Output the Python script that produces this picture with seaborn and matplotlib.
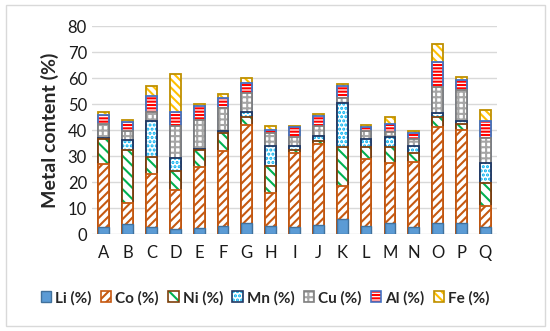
import numpy as np
import pandas as pd
import matplotlib
matplotlib.use("Agg")
import matplotlib.pyplot as plt
from matplotlib.patches import Patch, Rectangle
import seaborn as sns

# --- donnees ---
samples = list("ABCDEFGHIJKLMNOPQ")
li = [2.6, 3.8, 2.6, 2.1, 2.3, 3.1, 4.4, 3.1, 2.8, 3.6, 5.8, 3.1, 4.1, 2.8, 4.1, 4.1, 2.8]
co = [24.3, 8.3, 20.5, 14.8, 23.3, 28.8, 37.6, 12.5, 28.4, 31.0, 12.8, 25.6, 23.4, 25.0, 37.1, 36.1, 8.1]
ni = [9.5, 20.2, 6.6, 7.5, 6.9, 7.1, 3.1, 10.6, 1.3, 1.3, 14.7, 4.6, 6.0, 3.2, 3.9, 2.3, 8.8]
mn = [0.4, 3.9, 13.9, 4.7, 0.3, 0.7, 1.8, 7.6, 1.3, 1.7, 17.1, 3.1, 3.9, 2.8, 1.3, 0.9, 7.8]
cu = [5.5, 3.5, 3.2, 12.4, 11.2, 8.8, 7.5, 5.2, 3.6, 3.9, 2.1, 3.3, 1.9, 2.6, 10.2, 12.2, 9.6]
al = [3.5, 3.3, 6.3, 5.3, 5.2, 4.0, 3.7, 1.2, 3.6, 3.8, 4.6, 1.5, 3.2, 2.5, 9.6, 3.6, 6.3]
fe = [1.0, 0.8, 3.8, 14.9, 1.0, 1.5, 2.1, 1.2, 0.6, 0.9, 0.8, 0.9, 2.6, 0.9, 7.0, 1.2, 4.2]

labels = ["Li (%)", "Co (%)", "Ni (%)", "Mn (%)", "Cu (%)", "Al (%)", "Fe (%)"]
series = [li, co, ni, mn, cu, al, fe]

# style de chaque couche : (remplissage, couleur du motif, motif, bordure)
styles = [
    ("#5B9BD5", "#5B9BD5", None, "#41719C"),
    ("white", "#C65911", "////", "#C65911"),
    ("white", "#00B050", "\\\\\\", "#7F3F0C"),
    ("white", "#00B0F0", "....", "#1F3864"),
    ("white", "#A5A5A5", "+++", "#808080"),
    ("white", "#FF0000", "-----", "#4472C4"),
    ("white", "#FFC000", "\\\\\\\\", "#BF9000"),
]

df = pd.DataFrame(dict(zip(labels, series)), index=samples)
cum = df.cumsum(axis=1)

sns.set_style("white")
plt.rcParams["font.family"] = ["Lato", "DejaVu Sans"]
plt.rcParams["hatch.linewidth"] = 1.5

fig = plt.figure(figsize=(5.5, 3.31), dpi=100)
ax = fig.add_axes([0.167, 0.293, 0.737, 0.628])

# barres empilees : on dessine les cumuls du haut vers le bas
for lab, (fc, hc, h, ec) in reversed(list(zip(labels, styles))):
    d = pd.DataFrame({"sample": samples, "val": cum[lab].values})
    if h is None:
        sns.barplot(data=d, x="sample", y="val", color=fc, saturation=1,
                    edgecolor=ec, linewidth=1.0, width=0.45, errorbar=None, ax=ax)
    else:
        sns.barplot(data=d, x="sample", y="val", color=fc, saturation=1,
                    edgecolor=hc, linewidth=0, hatch=h, width=0.45, errorbar=None, ax=ax)
        sns.barplot(data=d, x="sample", y="val", color=ec, saturation=1, fill=False,
                    linewidth=1.3, width=0.45, errorbar=None, ax=ax)

ax.set_ylim(0, 80)
ax.set_xlim(-0.5, len(samples) - 0.5)
ax.set_yticks(range(0, 81, 10))
ax.yaxis.grid(True, color="#D9D9D9", linewidth=1)
ax.set_axisbelow(True)
for s in ax.spines.values():
    s.set_visible(False)
ax.tick_params(axis="both", length=0, labelsize=12, colors="#1a1a1a")
ax.tick_params(axis="x", pad=8)
ax.set_xlabel("")
ax.set_ylabel("Metal content (%)", fontsize=14, fontweight="bold", labelpad=6)

handles = []
for fc, hc, h, ec in styles:
    if h is None:
        handles.append(Patch(facecolor=fc, edgecolor=ec, linewidth=1))
    else:
        handles.append((Patch(facecolor="white", edgecolor=hc, hatch=h, linewidth=0),
                        Patch(facecolor="none", edgecolor=ec, linewidth=1.2)))
fig.legend(handles, labels, loc="center", bbox_to_anchor=(0.482, 0.10), ncol=7,
           frameon=False, prop={"weight": "bold", "size": 11},
           handlelength=0.7, handleheight=0.7, handletextpad=0.25, columnspacing=0.6)

fig.patches.append(Rectangle((0.01, 0.015), 0.98, 0.97, transform=fig.transFigure,
                             fill=False, edgecolor="#D9D9D9", linewidth=1))

fig.savefig("out.png", dpi=100)
